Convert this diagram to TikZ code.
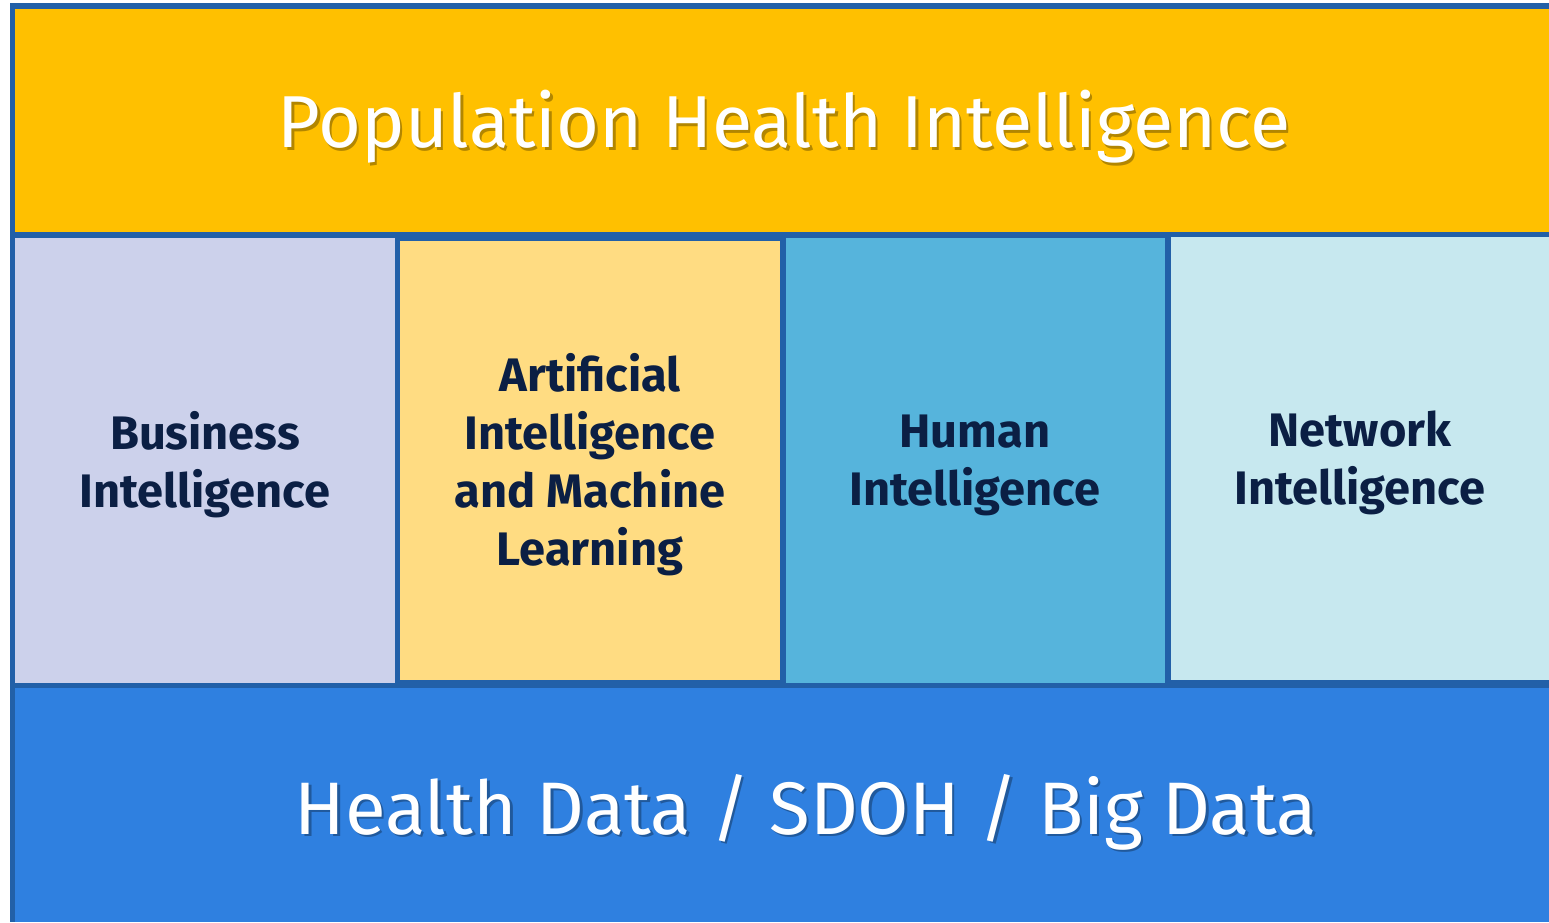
\documentclass[tikz,border=0pt]{standalone}
\usepackage{fontspec}
\setmainfont{Fira Sans}
\definecolor{frameblue}{HTML}{2260A8}
\definecolor{topyellow}{HTML}{FFC000}
\definecolor{lavender}{HTML}{CCD1EB}
\definecolor{paleyellow}{HTML}{FFDC82}
\definecolor{midblue}{HTML}{56B4DC}
\definecolor{palecyan}{HTML}{C7E8EF}
\definecolor{bottomblue}{HTML}{2F80E0}
\definecolor{navytext}{HTML}{0B1F44}
\tikzset{
  toptext/.style={text=white, font=\fontsize{36.8}{44}\selectfont, inner sep=0pt},
  topshadow/.style={text=black, opacity=0.3, font=\fontsize{36.8}{44}\selectfont, inner sep=0pt},
  bottext/.style={text=white, font=\fontsize{37.2}{44}\selectfont, inner sep=0pt},
  botshadow/.style={text=black, opacity=0.3, font=\fontsize{37.2}{44}\selectfont, inner sep=0pt},
  coltext/.style={text=navytext, font=\bfseries\fontsize{23.5}{29}\selectfont, align=center, inner sep=0pt}
}
\begin{document}
\begin{tikzpicture}[x=0.5pt,y=-0.5pt]
\useasboundingbox (0,0) rectangle (1549,922);
\fill[white] (0,0) rectangle (1549,922);
\fill[frameblue] (10,3) rectangle (1549,922);
\fill[topyellow] (15,9) rectangle (1549,232);
\fill[lavender] (15,238) rectangle (395,683);
\fill[paleyellow] (400,241) rectangle (780,680);
\fill[midblue] (786,238) rectangle (1165,683);
\fill[palecyan] (1171,237) rectangle (1549,680);
\fill[bottomblue] (15,688) rectangle (1549,922);
\node[topshadow] (phishadow) at (786.5,129.5) {Population Health Intelligence};
\node[toptext] (phi) at (784,127) {Population Health Intelligence};
\node[botshadow] (datashadow) at (808.5,814.5) {Health Data / SDOH / Big Data};
\node[bottext] (data) at (806,812) {Health Data / SDOH / Big Data};
\node[coltext] (bi) at (205,465) {Business\\Intelligence};
\node[coltext] (aiml) at (590,465) {Artificial\\Intelligence\\and Machine\\Learning};
\node[coltext] (hi) at (975,465) {Human\\Intelligence};
\node[coltext] (ni) at (1360,463) {Network\\Intelligence};
\end{tikzpicture}
\end{document}
